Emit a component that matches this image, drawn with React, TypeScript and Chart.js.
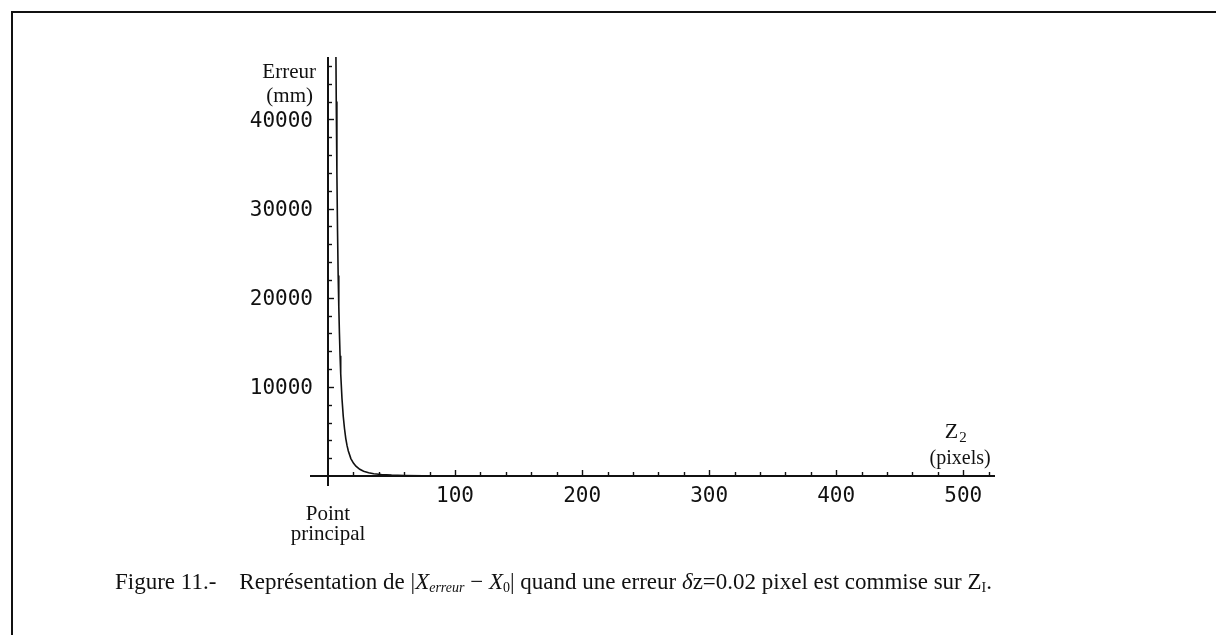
import React, { useEffect, useRef } from "react";
import { Chart, registerables } from "chart.js";

Chart.register(...registerables);

const zValues = [6.0, 6.5, 7.0, 7.5, 8.0, 8.5, 9.0, 9.5, 10, 11, 12, 13, 14, 15, 16, 18, 20, 22, 25, 28, 32, 36, 42, 50, 60, 75, 100, 150, 200, 300, 400, 525];
// Erreur (mm)
const errValues = [52000, 42000, 34000, 27500, 22500, 19000, 16000, 13500, 11500, 8700, 6700, 5300, 4200, 3400, 2800, 1950, 1450, 1100, 750, 530, 360, 250, 160, 95, 55, 28, 12, 4, 2, 1, 0.5, 0.3];

const xMajorTicks = [100, 200, 300, 400, 500];
const xMinorTicks = [20, 40, 60, 80, 120, 140, 160, 180, 220, 240, 260, 280, 320, 340, 360, 380, 420, 440, 460, 480, 520];
const yMajorTicks = [10000, 20000, 30000, 40000];
const yMinorTicks = [2000, 4000, 6000, 8000, 12000, 14000, 16000, 18000, 22000, 24000, 26000, 28000, 32000, 34000, 36000, 38000, 42000, 44000, 46000];

const X_MAX = 525;
const Y_MAX = 47000;

const axesPlugin = {
  id: "mathAxes",
  afterDatasetsDraw(chart: any) {
    const { ctx } = chart;
    const xs = chart.scales.x;
    const ys = chart.scales.y;
    const x0 = xs.getPixelForValue(0);
    const y0 = ys.getPixelForValue(0);
    ctx.save();
    ctx.strokeStyle = "#111";
    ctx.fillStyle = "#111";
    ctx.lineWidth = 2;
    ctx.beginPath();
    ctx.moveTo(x0 - 18, y0);
    ctx.lineTo(xs.getPixelForValue(X_MAX), y0);
    ctx.stroke();
    ctx.beginPath();
    ctx.moveTo(x0, y0 + 10);
    ctx.lineTo(x0, ys.getPixelForValue(Y_MAX));
    ctx.stroke();

    ctx.lineWidth = 1.4;
    const tick = (x1: number, y1: number, x2: number, y2: number) => {
      ctx.beginPath();
      ctx.moveTo(x1, y1);
      ctx.lineTo(x2, y2);
      ctx.stroke();
    };
    xMajorTicks.forEach((v) => {
      const p = Math.round(xs.getPixelForValue(v)) + 0.5;
      tick(p, y0, p, y0 - 6);
    });
    xMinorTicks.forEach((v) => {
      const p = Math.round(xs.getPixelForValue(v)) + 0.5;
      tick(p, y0, p, y0 - 4);
    });
    yMajorTicks.forEach((v) => {
      const p = Math.round(ys.getPixelForValue(v)) + 0.5;
      tick(x0, p, x0 + 6, p);
    });
    yMinorTicks.forEach((v) => {
      const p = Math.round(ys.getPixelForValue(v)) + 0.5;
      tick(x0, p, x0 + 4, p);
    });

    ctx.font = '21px "DejaVu Sans Mono"';
    ctx.textAlign = "center";
    ctx.textBaseline = "top";
    xMajorTicks.forEach((v) => {
      ctx.fillText(String(v), xs.getPixelForValue(v), y0 + 10);
    });
    ctx.textAlign = "right";
    ctx.textBaseline = "middle";
    yMajorTicks.forEach((v) => {
      ctx.fillText(String(v), x0 - 15, ys.getPixelForValue(v) + 2);
    });

    ctx.font = '21px "Liberation Serif"';
    ctx.textBaseline = "alphabetic";
    ctx.textAlign = "right";
    ctx.fillText("Erreur", x0 - 12, 78);
    ctx.fillText("(mm)", x0 - 15, 102);

    ctx.textAlign = "center";
    ctx.fillText("Point", x0, y0 + 44);
    ctx.fillText("principal", x0, y0 + 64);

    const zx = xs.getPixelForValue(496);
    ctx.font = '22px "Liberation Serif"';
    ctx.textAlign = "right";
    ctx.fillText("Z", zx, y0 - 38);
    ctx.font = '15px "Liberation Serif"';
    ctx.textAlign = "left";
    ctx.fillText("2", zx + 1, y0 - 34);
    ctx.font = '20px "Liberation Serif"';
    ctx.textAlign = "center";
    ctx.fillText("(pixels)", zx + 2, y0 - 12);
    ctx.restore();
  },
};

export default function App() {
  const canvasRef = useRef<HTMLCanvasElement | null>(null);

  useEffect(() => {
    if (!canvasRef.current) return;
    const chart = new Chart(canvasRef.current, {
      type: "line",
      data: {
        datasets: [
          {
            data: zValues.map((z, i) => ({ x: z, y: errValues[i] })),
            borderColor: "#111",
            borderWidth: 1.6,
            pointRadius: 0,
            tension: 0,
            fill: false,
          },
        ],
      },
      options: {
        responsive: false,
        animation: false,
        events: [],
        layout: { padding: { left: 328, right: 221, top: 57, bottom: 159 } },
        plugins: { legend: { display: false }, tooltip: { enabled: false } },
        scales: {
          x: { type: "linear", min: 0, max: X_MAX, display: false },
          y: { type: "linear", min: 0, max: Y_MAX, display: false },
        },
      },
      plugins: [axesPlugin],
    });
    return () => chart.destroy();
  }, []);

  return (
    <div style={{ position: "fixed", left: 0, top: 0, width: 1216, height: 635, background: "#fff", overflow: "hidden" }}>
      <canvas ref={canvasRef} width={1216} height={635} style={{ position: "absolute", left: 0, top: 0 }} />
      <div style={{ position: "absolute", left: 11, top: 11, width: 1205, height: 2, background: "#111" }} />
      <div style={{ position: "absolute", left: 11, top: 11, width: 2, height: 624, background: "#111" }} />
      <div
        style={{
          position: "absolute",
          left: 115,
          top: 570,
          fontFamily: '"Liberation Serif", serif',
          fontSize: 23,
          lineHeight: "23px",
          whiteSpace: "pre",
          color: "#111",
        }}
      >
        {"Figure 11.-    Représentation de |"}
        <i>X</i>
        <sub style={{ fontSize: 14, fontStyle: "italic", verticalAlign: "-3px" }}>erreur</sub>
        {" − "}
        <i>X</i>
        <sub style={{ fontSize: 14, verticalAlign: "-3px" }}>0</sub>
        {"| quand une erreur "}
        <i>δ</i>
        {"z=0.02 pixel est commise sur Z"}
        <sub style={{ fontSize: 14, verticalAlign: "-3px" }}>I</sub>
        {"."}
      </div>
    </div>
  );
}
